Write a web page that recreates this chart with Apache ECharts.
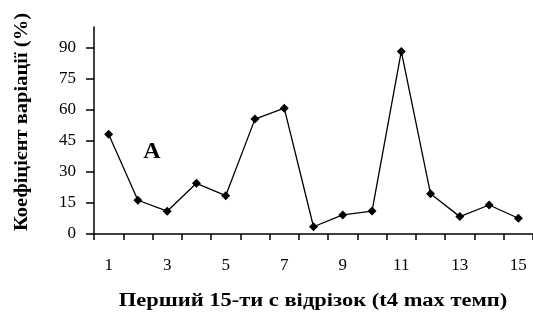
<!DOCTYPE html>
<html><head><meta charset="utf-8">
<script src="https://cdn.jsdelivr.net/npm/echarts@6/dist/echarts.min.js"></script>
<style>html,body{margin:0;padding:0;background:#fff}#c{width:533px;height:323px}</style>
</head><body><div id="c"></div>
<script>
const categories = ['1','2','3','4','5','6','7','8','9','10','11','12','13','14','15'];
const values = [48.2, 16.3, 11.0, 24.5, 18.5, 55.5, 60.8, 3.5, 9.2, 11.1, 88.2, 19.4, 8.4, 14.0, 7.6];
const yTicks = [0, 15, 30, 45, 60, 75, 90];
const yTitle = 'Коефіцієнт варіації (%)';
const xTitle = 'Перший 15-ти с відрізок (t4 max темп)';
const panelLabel = 'A';

const chart = echarts.init(document.getElementById('c'));
const font = '"Liberation Serif", "Times New Roman", serif';
chart.setOption({
  animation: false,
  backgroundColor: '#fff',
  grid: { left: 94, top: 27, bottom: 89, width: 441 },
  xAxis: {
    type: 'category', data: categories, boundaryGap: true,
    axisLine: { lineStyle: { color: '#000', width: 1.5 } },
    axisTick: { show: true, interval: 0, length: 6, lineStyle: { color: '#000', width: 1.5 } },
    axisLabel: { interval: 1, color: '#000', fontFamily: font, fontSize: 17, margin: 23 },
    splitLine: { show: false }
  },
  yAxis: {
    type: 'value', min: 0, max: 100,
    axisLine: { show: true, lineStyle: { color: '#000', width: 1.5 } },
    axisTick: { show: true, length: 8, customValues: yTicks, lineStyle: { color: '#000', width: 1.5 } },
    axisLabel: { customValues: yTicks, color: '#000', fontFamily: font, fontSize: 17, margin: 18 },
    splitLine: { show: false }
  },
  graphic: [
    { type: 'text', x: 152, y: 152, style: { text: panelLabel, font: 'bold 24px ' + font, fill: '#000', align: 'center', verticalAlign: 'middle' } },
    { type: 'text', x: 22, y: 122, rotation: Math.PI / 2, scaleX: 1.14, style: { text: yTitle, font: 'bold 18px ' + font, fill: '#000', align: 'center', verticalAlign: 'middle' } },
    { type: 'text', x: 313, y: 301, scaleX: 1.25, style: { text: xTitle, font: 'bold 18px ' + font, fill: '#000', align: 'center', verticalAlign: 'middle' } }
  ],
  series: [{
    type: 'line', data: values,
    symbol: 'diamond', symbolSize: 9,
    itemStyle: { color: '#000' },
    lineStyle: { color: '#000', width: 1.3 }
  }]
});
</script></body></html>
